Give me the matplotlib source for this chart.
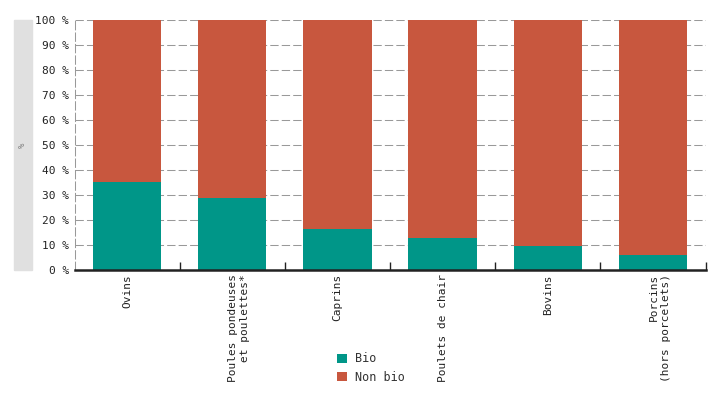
import numpy as np
import matplotlib
matplotlib.use('Agg')
import matplotlib.pyplot as plt
import matplotlib.transforms as mtransforms
from matplotlib.patches import Rectangle

categories = ['Ovins', 'Poules pondeuses\net poulettes*', 'Caprins',
              'Poulets de chair', 'Bovins', 'Porcins\n(hors porcelets)']
bio = [35.3, 29.0, 16.4, 12.9, 9.7, 6.0]
non_bio = [100 - b for b in bio]
yticks = list(range(0, 101, 10))
ytick_labels = ['%d %%' % t for t in yticks]

teal = '#009688'
red = '#c8573e'

plt.rcParams['font.family'] = ['DejaVu Sans Mono']

fig = plt.figure(figsize=(7.25, 4.0), dpi=100)
ax = fig.add_axes([74.5 / 725, 1 - 270 / 400, 631 / 725, 250 / 400])

x = np.arange(len(categories))
ax.bar(x, bio, width=0.65, color=teal, label='Bio', zorder=2)
ax.bar(x, non_bio, width=0.65, bottom=bio, color=red, label='Non bio', zorder=2)

ax.set_xlim(-0.5, len(categories) - 0.5)
ax.set_ylim(0, 100)
ax.set_yticks(yticks)
ax.set_yticklabels(ytick_labels, fontsize=8, color='#222222')
ax.tick_params(axis='y', length=0, pad=4)

ax.set_xticks(x)
ax.set_xticklabels(categories, rotation=90, fontsize=8, color='#222222',
                   multialignment='right')
ax.tick_params(axis='x', length=0, pad=3)
ax.set_xticks(np.arange(len(categories)) + 0.5, minor=True)
ax.tick_params(axis='x', which='minor', direction='in', length=6, width=1, color='#222222')

# two-line labels: put first line on the bar centre
for lab in ax.get_xticklabels():
    if '\n' in lab.get_text():
        lab.set_transform(lab.get_transform() +
                          mtransforms.ScaledTranslation(7 / 100, 0, fig.dpi_scale_trans))

ax.grid(axis='y', color='#999999', linestyle=(0, (8, 3)), linewidth=0.75, zorder=0)
for s in ['top', 'right']:
    ax.spines[s].set_visible(False)
ax.spines['left'].set_color('#999999')
ax.spines['left'].set_linestyle((0, (8, 3)))
ax.spines['left'].set_linewidth(0.75)
ax.spines['bottom'].set_color('#222222')
ax.spines['bottom'].set_linewidth(1.8)
ax.spines['bottom'].set_zorder(3)

# grey band with unit label
fig.patches.append(Rectangle((14 / 725, 1 - 270 / 400), 18 / 725, 250 / 400,
                             transform=fig.transFigure, color='#e0e0e0', zorder=0))
fig.text(22.5 / 725, 1 - 145 / 400, '%', rotation=90, fontsize=6.5, color='#888888',
         ha='center', va='center')

fig.legend(loc='center', bbox_to_anchor=(371 / 725, 1 - 368 / 400), frameon=False,
           fontsize=8.5, handlelength=0.85, handleheight=0.85, handletextpad=0.65,
           labelspacing=0.45, labelcolor='#333333')

fig.savefig('out.png', dpi=100)
